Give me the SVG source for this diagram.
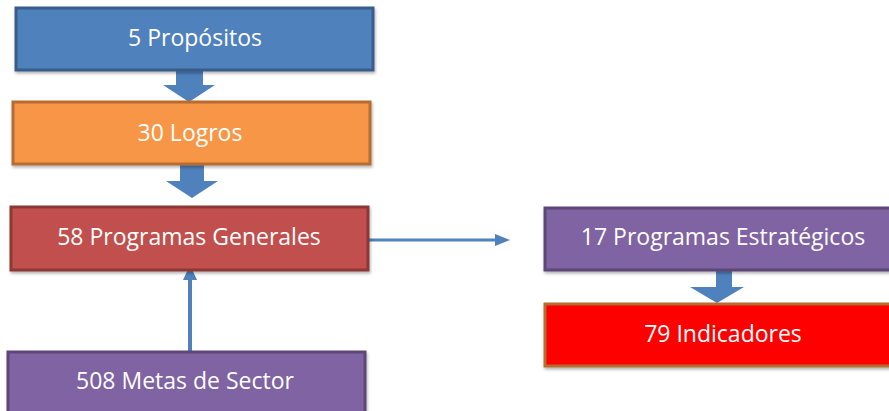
<svg xmlns="http://www.w3.org/2000/svg" width="889" height="411" viewBox="0 0 889 411">
<defs>
<style>
.box{stroke-width:3}
.lbl{font-family:"Open Sans","Liberation Sans",sans-serif;font-size:23px;fill:#ffffff;text-anchor:middle}
.blk{fill:#4F81BD}
.ln{stroke:#4F81BD;fill:none}
</style>
<filter id="sh" x="-5%" y="-10%" width="110%" height="130%">
<feDropShadow dx="1" dy="2" stdDeviation="1.5" flood-color="#000" flood-opacity="0.3"/>
</filter>
</defs>
<rect width="889" height="411" fill="#ffffff"/>
<g id="connectors">
<polygon class="blk" points="176,70 203,70 203,85 215,85 189,102 163,85 176,85"/>
<polygon class="blk" points="180,164 204,164 204,181 218,181 192,198 166,181 180,181"/>
<polygon class="blk" points="716,271 732,271 732,287 744,287 717,303 690,287 716,287"/>
<line class="ln" x1="368" y1="240" x2="497" y2="240" stroke-width="3"/>
<polygon class="blk" points="495,234 510,240 495,246"/>
<line class="ln" x1="190" y1="352" x2="190" y2="278" stroke-width="4"/>
<polygon class="blk" points="183,280 190,265 197,280"/>
</g>
<g id="n1"><rect class="box" x="16" y="8" width="357" height="62" fill="#4F81BD" stroke="#385D8A" filter="url(#sh)"/><text class="lbl" x="195" y="46">5 Propósitos</text></g>
<g id="n2"><rect class="box" x="13" y="102" width="357" height="62" fill="#F79646" stroke="#B66D31" filter="url(#sh)"/><text class="lbl" x="190" y="141">30 Logros</text></g>
<g id="n3"><rect class="box" x="11" y="207" width="357" height="63" fill="#C0504D" stroke="#8C3836" filter="url(#sh)"/><text class="lbl" x="189" y="245">58 Programas Generales</text></g>
<g id="n4"><rect class="box" x="8" y="352" width="357" height="63" fill="#8064A2" stroke="#5C4776" filter="url(#sh)"/><text class="lbl" x="185" y="389">508 Metas de Sector</text></g>
<g id="n5"><rect class="box" x="545" y="208" width="350" height="62" fill="#8064A2" stroke="#5C4776" filter="url(#sh)"/><text class="lbl" x="723" y="245">17 Programas Estratégicos</text></g>
<g id="n6"><rect class="box" x="545" y="304" width="350" height="62" fill="#FF0000" stroke="#B66D31" filter="url(#sh)"/><text class="lbl" x="723" y="342">79 Indicadores</text></g>
</svg>
